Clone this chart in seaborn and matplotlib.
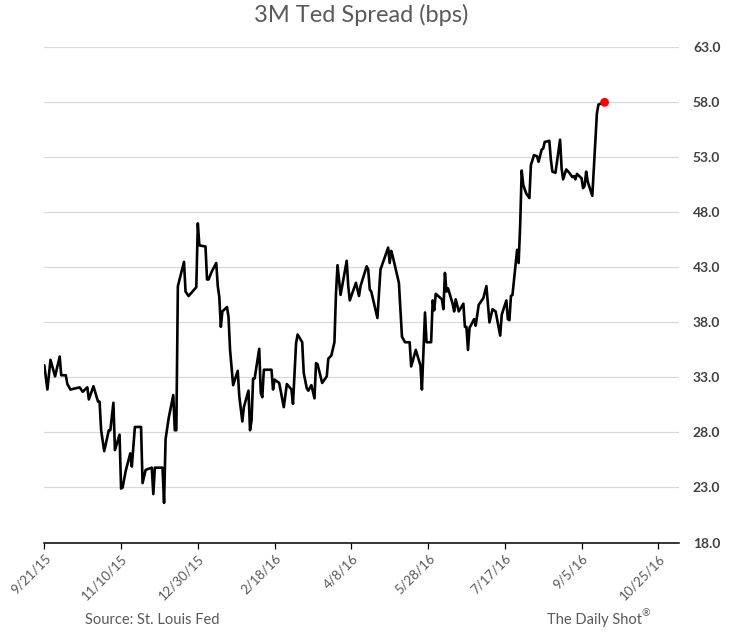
import matplotlib
matplotlib.use('Agg')
import matplotlib.pyplot as plt
import seaborn as sns
import pandas as pd

# 3M TED spread in bps (vertices of the line)
dates = [
    '2015-09-21', '2015-09-23', '2015-09-25', '2015-09-28', '2015-10-01', '2015-10-02',
    '2015-10-05', '2015-10-06', '2015-10-08', '2015-10-14', '2015-10-16', '2015-10-19',
    '2015-10-20', '2015-10-23', '2015-10-26', '2015-10-27', '2015-10-28', '2015-10-30',
    '2015-11-02', '2015-11-03', '2015-11-05', '2015-11-06', '2015-11-09', '2015-11-10',
    '2015-11-11', '2015-11-13', '2015-11-16', '2015-11-17', '2015-11-19', '2015-11-23',
    '2015-11-24', '2015-11-26', '2015-11-30', '2015-12-01', '2015-12-02', '2015-12-07',
    '2015-12-08', '2015-12-09', '2015-12-11', '2015-12-14', '2015-12-15', '2015-12-16',
    '2015-12-17', '2015-12-21', '2015-12-22', '2015-12-24', '2015-12-29', '2015-12-30',
    '2015-12-31', '2016-01-04', '2016-01-05', '2016-01-06', '2016-01-08', '2016-01-11',
    '2016-01-12', '2016-01-13', '2016-01-14', '2016-01-15', '2016-01-18', '2016-01-19',
    '2016-01-20', '2016-01-22', '2016-01-25', '2016-01-26', '2016-01-28', '2016-01-29',
    '2016-02-01', '2016-02-02', '2016-02-03', '2016-02-04', '2016-02-05', '2016-02-08',
    '2016-02-09', '2016-02-10', '2016-02-11', '2016-02-16', '2016-02-17', '2016-02-18',
    '2016-02-21', '2016-02-24', '2016-02-26', '2016-02-29', '2016-03-01', '2016-03-03',
    '2016-03-04', '2016-03-07', '2016-03-08', '2016-03-10', '2016-03-11', '2016-03-13',
    '2016-03-15', '2016-03-16', '2016-03-17', '2016-03-20', '2016-03-23', '2016-03-24',
    '2016-03-26', '2016-03-28', '2016-03-29', '2016-03-30', '2016-04-01', '2016-04-05',
    '2016-04-06', '2016-04-07', '2016-04-11', '2016-04-13', '2016-04-14', '2016-04-18',
    '2016-04-19', '2016-04-20', '2016-04-21', '2016-04-25', '2016-04-27', '2016-05-02',
    '2016-05-03', '2016-05-04', '2016-05-05', '2016-05-09', '2016-05-11', '2016-05-13',
    '2016-05-16', '2016-05-17', '2016-05-20', '2016-05-23', '2016-05-24', '2016-05-26',
    '2016-05-27', '2016-05-30', '2016-05-31', '2016-06-01', '2016-06-02', '2016-06-06',
    '2016-06-07', '2016-06-08', '2016-06-09', '2016-06-10', '2016-06-13', '2016-06-14',
    '2016-06-15', '2016-06-17', '2016-06-20', '2016-06-21', '2016-06-22', '2016-06-23',
    '2016-06-24', '2016-06-27', '2016-06-28', '2016-06-30', '2016-07-03', '2016-07-05',
    '2016-07-07', '2016-07-09', '2016-07-11', '2016-07-14', '2016-07-15', '2016-07-18',
    '2016-07-19', '2016-07-20', '2016-07-21', '2016-07-22', '2016-07-25', '2016-07-26',
    '2016-07-27', '2016-07-28', '2016-07-29', '2016-07-31', '2016-08-02', '2016-08-03',
    '2016-08-05', '2016-08-07', '2016-08-08', '2016-08-10', '2016-08-11', '2016-08-12',
    '2016-08-15', '2016-08-16', '2016-08-17', '2016-08-19', '2016-08-22', '2016-08-23',
    '2016-08-24', '2016-08-26', '2016-08-28', '2016-08-30', '2016-08-31', '2016-09-01',
    '2016-09-02', '2016-09-05', '2016-09-06', '2016-09-07', '2016-09-08', '2016-09-09',
    '2016-09-12', '2016-09-15', '2016-09-16', '2016-09-20',
]
spread_bps = [
    34.1, 31.9, 34.6, 33.1, 34.9, 33.2,
    33.2, 32.4, 31.9, 32.1, 31.7, 32.1,
    31.0, 32.2, 30.8, 30.8, 28.2, 26.3,
    28.2, 28.2, 30.7, 26.4, 27.8, 22.9,
    23.0, 24.5, 26.1, 24.9, 28.5, 28.5,
    23.4, 24.6, 24.8, 22.4, 24.8, 24.8,
    21.6, 27.4, 29.3, 31.4, 28.2, 28.2,
    41.3, 43.5, 40.8, 40.4, 41.2, 47.0,
    45.0, 44.9, 41.9, 41.9, 42.6, 43.4,
    41.3, 40.3, 37.6, 39.0, 39.4, 38.5,
    35.5, 32.3, 33.6, 31.3, 29.0, 30.3,
    31.8, 28.2, 29.1, 32.9, 32.9, 35.6,
    31.6, 31.2, 33.7, 33.7, 31.9, 32.8,
    32.5, 30.3, 32.4, 31.9, 30.6, 36.1,
    36.9, 36.2, 33.4, 32.0, 31.8, 32.3,
    31.1, 34.3, 34.2, 32.5, 33.1, 34.7,
    35.0, 36.2, 40.6, 43.2, 40.5, 43.6,
    41.3, 40.0, 41.6, 40.4, 41.3, 43.1,
    42.8, 41.0, 40.8, 38.4, 42.8, 44.8,
    43.4, 44.5, 44.0, 41.6, 36.7, 36.2,
    36.2, 34.0, 35.5, 34.1, 31.9, 38.9,
    36.2, 36.2, 40.0, 39.1, 40.6, 40.1,
    39.2, 42.5, 40.8, 41.1, 39.7, 39.0,
    40.1, 39.0, 39.7, 37.6, 37.6, 35.5,
    37.5, 38.3, 37.7, 39.6, 40.2, 41.3,
    38.0, 39.2, 39.0, 36.8, 38.7, 40.0,
    38.3, 38.2, 40.4, 40.5, 44.6, 43.4,
    46.8, 51.8, 50.5, 49.7, 49.3, 52.3,
    53.2, 53.1, 52.6, 53.7, 53.8, 54.4,
    54.5, 52.8, 51.7, 51.6, 54.6, 52.0,
    51.0, 51.9, 51.6, 51.2, 51.3, 51.0,
    51.5, 51.1, 50.2, 50.4, 51.7, 50.8,
    49.5, 57.0, 57.8, 58.0,
]
tick_labels = ['9/21/15', '11/10/15', '12/30/15', '2/18/16', '4/8/16',
               '5/28/16', '7/17/16', '9/5/16', '10/25/16']
y_ticks = [18, 23, 28, 33, 38, 43, 48, 53, 58, 63]

df = pd.DataFrame({'date': pd.to_datetime(dates), 'spread': spread_bps})
last = df.tail(1)

sns.set_style('white')
plt.rcParams['font.family'] = ['Lato', 'DejaVu Sans']

fig = plt.figure(figsize=(7.34, 6.34), dpi=100)
ax = fig.add_axes([0.0604, 0.1443, 0.8647, 0.7811])

sns.lineplot(data=df, x='date', y='spread', ax=ax, color='black', linewidth=1.9)
# latest reading gets a red marker
sns.scatterplot(data=last, x='date', y='spread', ax=ax, color='#ff0000',
                s=40, edgecolor='none', zorder=5)

ax.set_xlim(pd.Timestamp('2015-09-21'), pd.Timestamp('2016-11-07 12:00'))
ax.set_ylim(18, 63)

tick_dates = pd.to_datetime(tick_labels, format='%m/%d/%y')
ax.set_xticks(tick_dates)
ax.set_xticklabels(tick_labels, rotation=45, ha='right', rotation_mode='anchor',
                   fontsize=9.5, color='#595959')
ax.set_yticks(y_ticks)
ax.set_yticklabels([f'{v:.1f}' for v in y_ticks], fontsize=10, fontweight='bold',
                   color='#404040')

ax.yaxis.tick_right()
ax.tick_params(axis='y', length=0, pad=10)
ax.tick_params(axis='x', direction='out', length=4, width=0.9, color='black',
               bottom=True, pad=3)
ax.grid(axis='y', color='#d9d9d9', linewidth=0.9)
ax.set_axisbelow(True)

for side in ['left', 'right', 'top']:
    ax.spines[side].set_visible(False)
ax.spines['bottom'].set_color('black')
ax.spines['bottom'].set_linewidth(1.1)

ax.set_xlabel('')
ax.set_ylabel('')
ax.set_title('3M Ted Spread (bps)', fontsize=17, color='#595959', pad=18)

fig.text(85 / 734, 1 - 620 / 634, 'Source: St. Louis Fed', fontsize=10.5,
         color='#595959', ha='left', va='center')
ds = fig.text(547 / 734, 1 - 620 / 634, 'The Daily Shot', fontsize=10.5,
              color='#595959', ha='left', va='center')
ax.annotate('®', xy=(1.0, 0.95), xycoords=ds, ha='left', va='center',
            fontsize=7.5, color='#595959')

fig.savefig('out.png', dpi=100)
